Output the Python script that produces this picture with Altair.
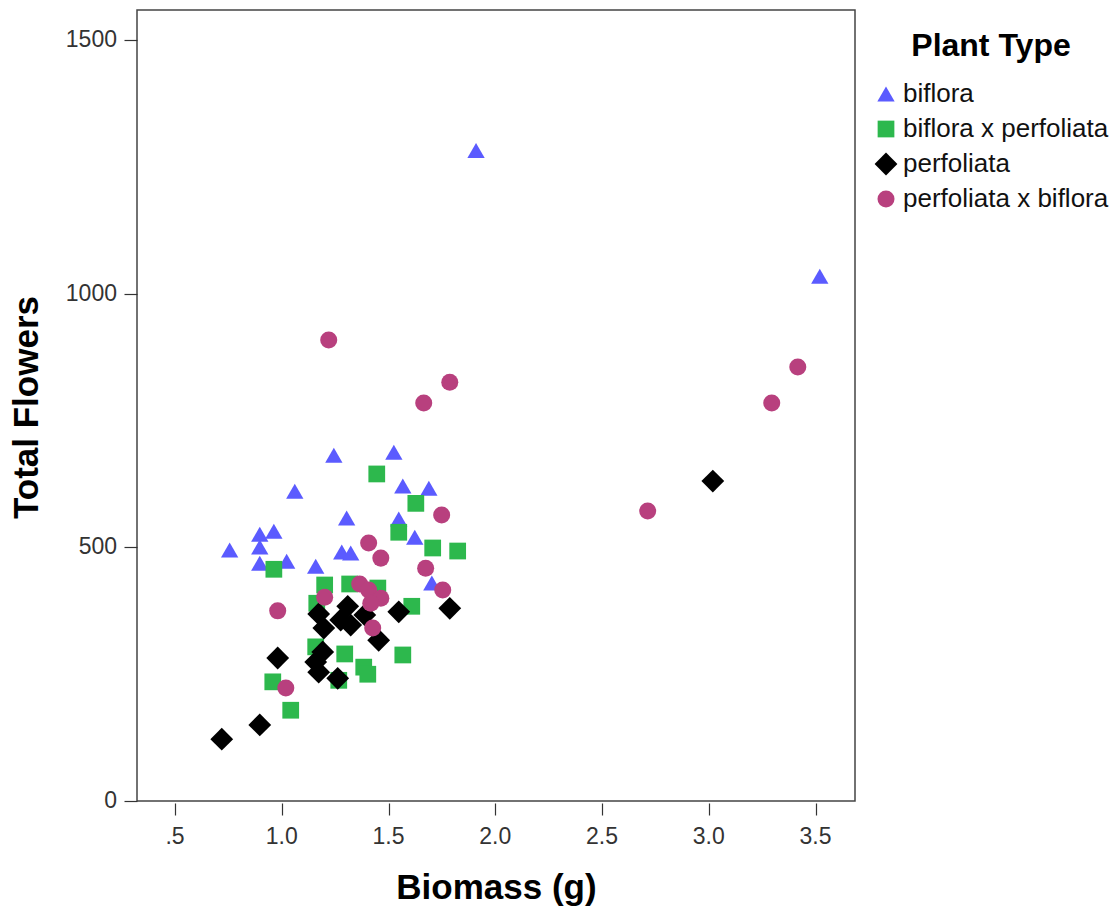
import altair as alt
import pandas as pd

FONT = "Liberation Sans"

types = ["biflora", "biflora x perfoliata", "perfoliata", "perfoliata x biflora"]

biflora_x = [1.91, 3.52, 1.244, 1.525, 1.061, 1.567, 1.689, 1.304, 1.548, 1.623,
             0.756, 0.897, 0.963, 0.897, 0.897, 1.023, 1.159, 1.281, 1.323, 1.703]
biflora_y = [1283, 1035, 682, 688, 611, 621, 617, 558, 556, 520,
             495, 526, 532, 501, 469, 473, 463, 491, 489, 430]

bxp_x = [1.445, 1.628, 0.963, 1.548, 1.707, 1.824, 1.201, 1.318, 1.450, 1.609,
         1.164, 1.159, 1.295, 1.567, 1.384, 1.403, 1.267, 0.958, 1.042]
bxp_y = [645, 587, 457, 530, 499, 493, 426, 428, 420, 384,
         390, 304, 290, 288, 264, 250, 238, 235, 179]

perf_x = [0.719, 0.897, 0.981, 1.159, 1.173, 1.192, 1.262, 1.173, 1.197, 1.276,
          1.309, 1.323, 1.389, 1.454, 1.548, 1.787, 3.019]
perf_y = [122, 150, 282, 274, 254, 294, 242, 369, 341, 357,
          384, 347, 367, 317, 373, 380, 631]

pxb_x = [1.220, 1.787, 1.665, 1.749, 1.407, 1.464, 1.674, 1.754, 1.365, 1.407,
         1.464, 1.417, 1.426, 1.201, 0.981, 1.019, 2.714, 3.295, 3.417]
pxb_y = [909, 826, 785, 564, 509, 479, 459, 416, 428, 416,
         400, 390, 341, 402, 375, 223, 572, 785, 856]

x_ticks = [0.5, 1.0, 1.5, 2.0, 2.5, 3.0, 3.5]
x_tick_labels = [".5", "1.0", "1.5", "2.0", "2.5", "3.0", "3.5"]
y_ticks = [0, 500, 1000, 1500]
y_tick_labels = ["0", "500", "1000", "1500"]

rows = []
for t, xs, ys in zip(types, [biflora_x, bxp_x, perf_x, pxb_x], [biflora_y, bxp_y, perf_y, pxb_y]):
    for x, y in zip(xs, ys):
        rows.append({"Biomass": x, "Flowers": y, "Plant Type": t})
df = pd.DataFrame(rows)
df["order"] = df["Plant Type"].map({t: i for i, t in enumerate(types)})

xlab_df = pd.DataFrame({"Biomass": x_ticks, "label": x_tick_labels})
ylab_df = pd.DataFrame({"Flowers": y_ticks, "label": y_tick_labels})

colors = ["#5b5bff", "#2db84d", "#000000", "#b8407e"]
shapes = ["triangle-up", "square", "diamond", "circle"]
sizes = [300, 280, 520, 290]

x_scale = alt.Scale(domain=[0.322, 3.685], nice=False, zero=False)
y_scale = alt.Scale(domain=[0, 1560], nice=False)

points = alt.Chart(df).mark_point(filled=True, opacity=1, strokeWidth=0).encode(
    x=alt.X("Biomass:Q", scale=x_scale,
            axis=alt.Axis(title="Biomass (g)", values=x_ticks, labels=False,
                          grid=False, domain=False, tickSize=12, offset=2,
                          tickColor="#333333", tickWidth=1.2,
                          titleFont=FONT, titleFontSize=35, titleFontWeight="bold",
                          titleColor="#000000", titleX=359, titleY=95,
                          titleBaseline="alphabetic", titleAlign="center")),
    y=alt.Y("Flowers:Q", scale=y_scale,
            axis=alt.Axis(title="Total Flowers", values=y_ticks, labels=False,
                          grid=False, domain=False, tickSize=13,
                          tickColor="#333333", tickWidth=1.2,
                          titleFont=FONT, titleFontSize=35, titleFontWeight="bold",
                          titleColor="#000000", titleX=-100, titleY=397,
                          titleAngle=270, titleBaseline="alphabetic", titleAlign="center")),
    color=alt.Color("Plant Type:N", scale=alt.Scale(domain=types, range=colors),
                    legend=alt.Legend(title="Plant Type", orient="none", legendX=736, legendY=21,
                                      titleAnchor="middle", symbolSize=200, rowPadding=9,
                                      titlePadding=18, labelLimit=400,
                                      titleFont=FONT, titleFontSize=32, titleFontWeight="bold",
                                      titleColor="#000000", labelFont=FONT, labelFontSize=26,
                                      labelColor="#111111")),
    shape=alt.Shape("Plant Type:N", scale=alt.Scale(domain=types, range=shapes)),
    size=alt.Size("Plant Type:N", scale=alt.Scale(type="ordinal", domain=types, range=sizes),
                  legend=None),
    order=alt.Order("order:Q"),
)

x_labels = alt.Chart(xlab_df).mark_text(
    font=FONT, fontSize=23, color="#333333", align="center", baseline="middle"
).encode(
    x=alt.X("Biomass:Q", scale=x_scale),
    y=alt.value(827),
    text="label:N",
)

y_labels = alt.Chart(ylab_df).mark_text(
    font=FONT, fontSize=23, color="#333333", align="right", baseline="middle"
).encode(
    x=alt.value(-20),
    y=alt.Y("Flowers:Q", scale=y_scale),
    text="label:N",
)

chart = alt.layer(points, x_labels, y_labels).properties(
    width=718, height=791,
    autosize=alt.AutoSizeParams(type="none"),
    padding={"left": 137, "top": 10, "right": 265, "bottom": 112},
).configure_view(
    stroke="#444444", strokeWidth=1.5
)

chart.save("out.html", embed_options={"renderer": "svg", "actions": False})
